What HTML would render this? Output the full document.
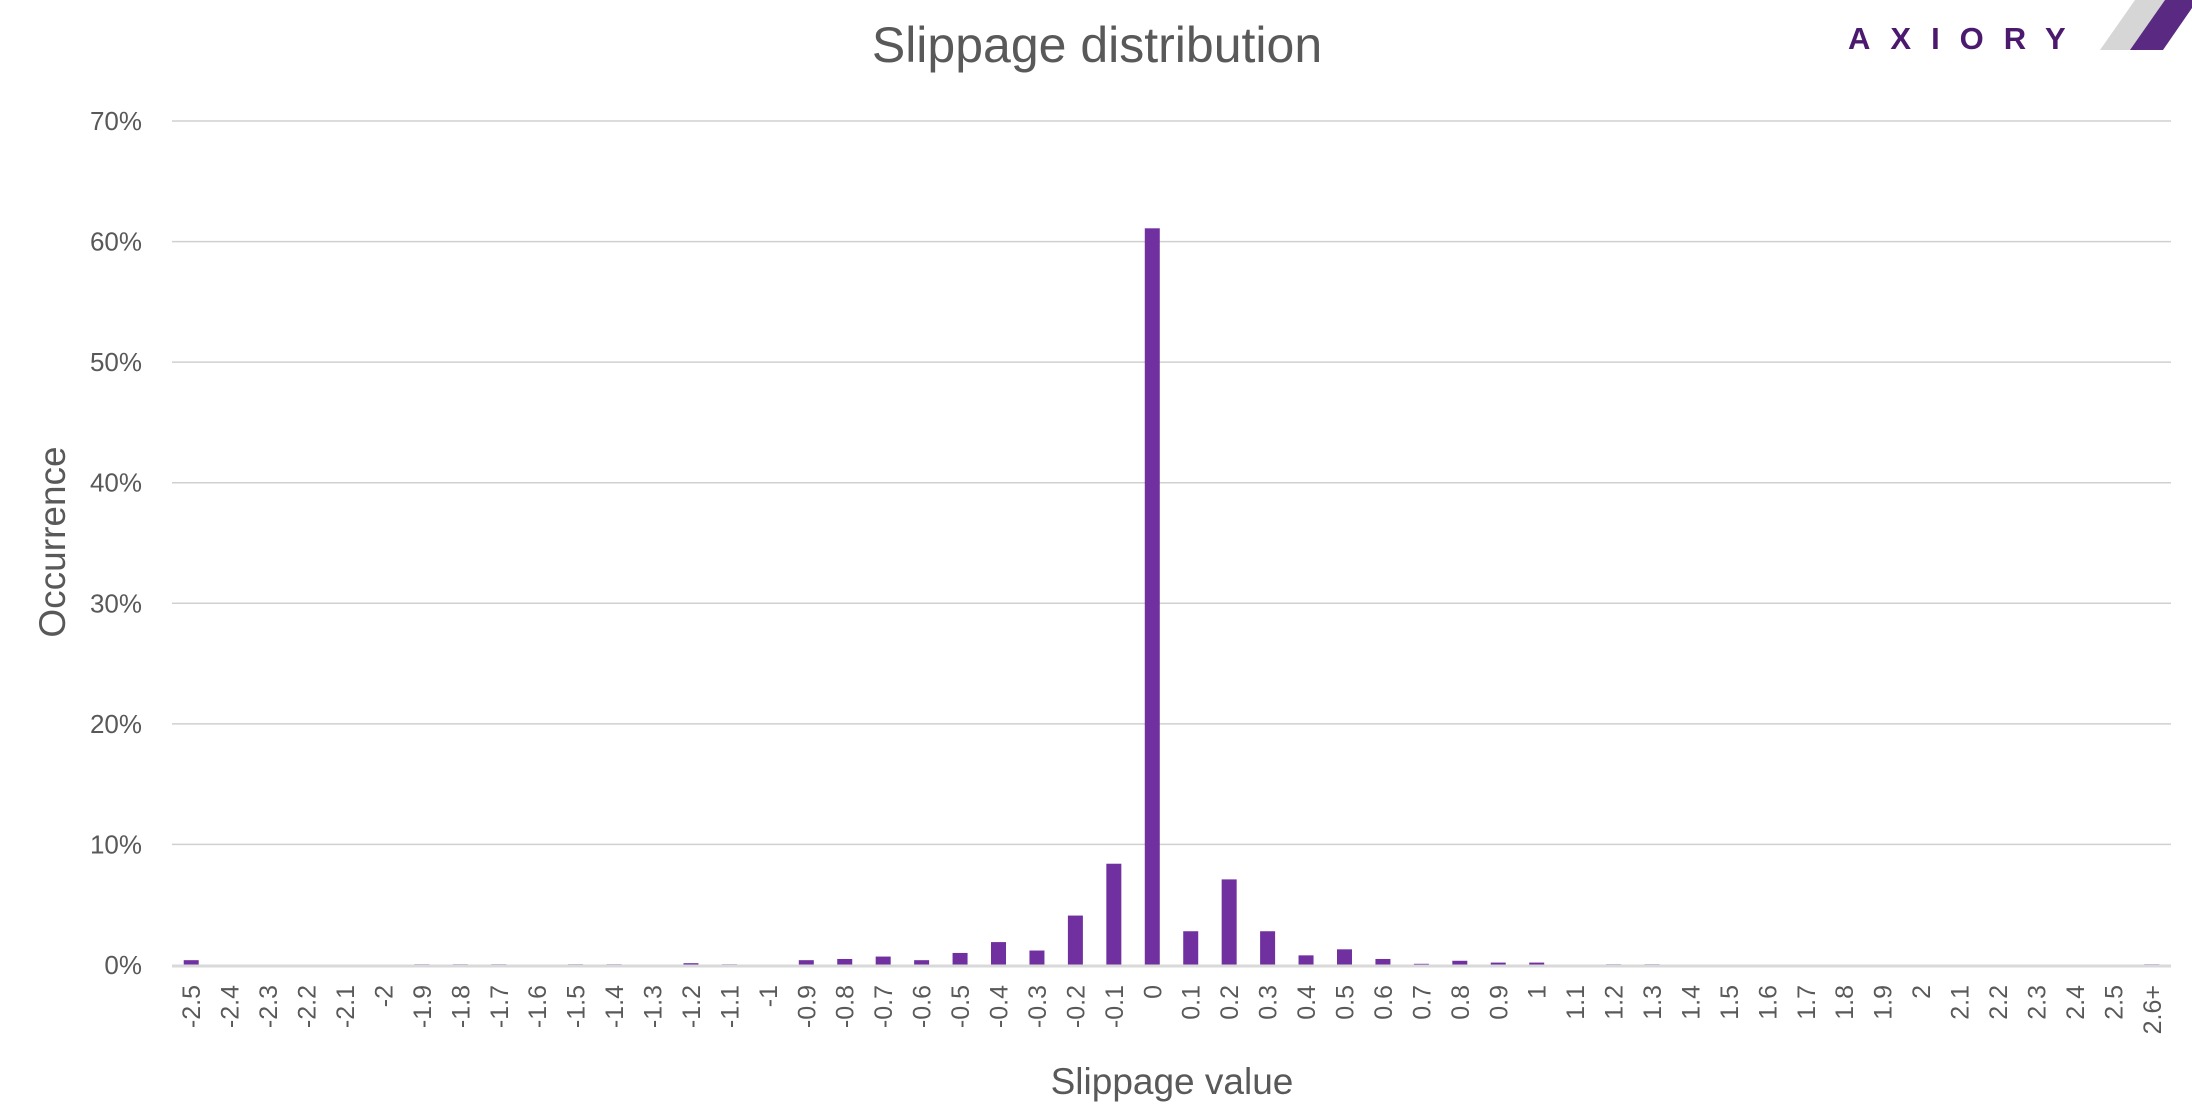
<!DOCTYPE html>
<html><head><meta charset="utf-8"><style>
body{margin:0;background:#fff;}
svg text{font-family:"Liberation Sans",sans-serif;fill:#595959;}
</style></head><body>
<svg id="chart" width="2192" height="1115" xmlns="http://www.w3.org/2000/svg">
<text x="1097" y="62" font-size="50" text-anchor="middle">Slippage distribution</text>
<g>
<text x="1848" y="49" font-size="31" font-weight="bold" letter-spacing="20" style="fill:#4b1a6e">AXIORY</text>
<polygon points="2135,0 2168,0 2134,50 2100,50" fill="#d6d6d6"/>
<polygon points="2165,0 2192,0 2192,8 2163,50 2130,50" fill="#5a2a82"/>
</g>
<text transform="translate(65,542) rotate(-90)" font-size="37" text-anchor="middle">Occurrence</text>
<text x="1172" y="1094" font-size="37" text-anchor="middle">Slippage value</text>
<g id="grid"></g><g id="bars"></g><g id="xt"></g>
</svg>
<script>
const categories=["-2.5","-2.4","-2.3","-2.2","-2.1","-2","-1.9","-1.8","-1.7","-1.6","-1.5","-1.4","-1.3","-1.2","-1.1","-1","-0.9","-0.8","-0.7","-0.6","-0.5","-0.4","-0.3","-0.2","-0.1","0","0.1","0.2","0.3","0.4","0.5","0.6","0.7","0.8","0.9","1","1.1","1.2","1.3","1.4","1.5","1.6","1.7","1.8","1.9","2","2.1","2.2","2.3","2.4","2.5","2.6+"];
const values=[0.4,0,0,0,0,0,0.06,0.06,0.06,0,0.06,0.06,0,0.15,0.06,0,0.4,0.5,0.7,0.4,1.0,1.9,1.2,4.1,8.4,61.1,2.8,7.1,2.8,0.8,1.3,0.5,0.1,0.35,0.2,0.2,0,0.06,0.06,0,0,0,0,0,0,0,0,0,0,0,0,0.06];
const yTicks=[0,10,20,30,40,50,60,70];
const yTickLabels=["0%","10%","20%","30%","40%","50%","60%","70%"];
const X0=172,X1=2171,Y0=965,Y1=121,YMAX=70;
const step=(X1-X0)/categories.length;
const xc=i=>X0+step*(i+0.5);
const y=v=>Y0-(v/YMAX)*(Y0-Y1);
const NS="http://www.w3.org/2000/svg";
function mk(t,a){const e=document.createElementNS(NS,t);for(const k in a)e.setAttribute(k,a[k]);return e;}
const grid=document.getElementById('grid');
yTicks.forEach((t,i)=>{
 if(t>0){const l=mk('line',{x1:X0,x2:X1,y1:y(t),y2:y(t),stroke:'#d0d0d0','stroke-width':1.5});
 
 
 grid.appendChild(l);}
 const tx=mk('text',{x:142,y:y(t)+9,'font-size':26,'text-anchor':'end'});
 tx.textContent=yTickLabels[i];
 
 
 grid.appendChild(tx);
});
const bars=document.getElementById('bars');
values.forEach((v,i)=>{
 const r=mk('rect',{x:xc(i)-7.5,y:y(v),width:15,height:Math.max(0,Y0-y(v)),fill:'#7030a0'});
 
 
 bars.appendChild(r);
});
const ax=mk('line',{x1:X0,x2:X1,y1:Y0+1,y2:Y0+1,stroke:'#d9d9d9','stroke-width':3});


bars.appendChild(ax);
const xt=document.getElementById('xt');
categories.forEach((c,i)=>{
 const t=mk('text',{transform:`translate(${xc(i)+9},985) rotate(-90)`,'font-size':25,'text-anchor':'end'});
 t.textContent=c;
 
 
 xt.appendChild(t);
});
</script>
</body></html>
